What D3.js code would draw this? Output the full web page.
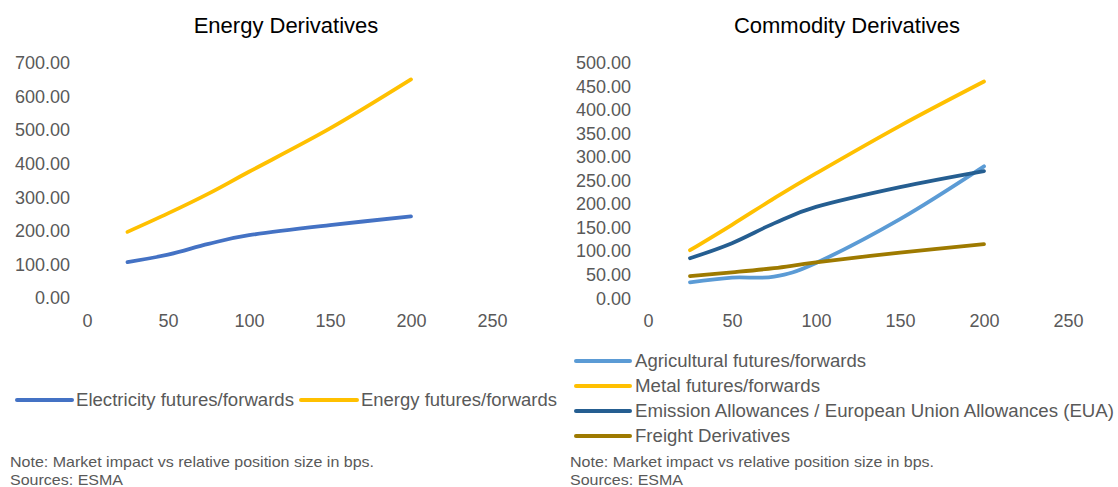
<!DOCTYPE html>
<html>
<head>
<meta charset="utf-8">
<script src="https://cdn.jsdelivr.net/npm/d3@7"></script>
<style>
  html, body { margin: 0; padding: 0; background: #fff; }
  svg { display: block; font-family: "Liberation Sans", Arial, sans-serif; }
</style>
</head>
<body>
<svg id="chart" width="1118" height="487"></svg>
<script>
// ---- Data ----
const positionSizes = [25, 50, 75, 100, 150, 200];

// Energy Derivatives
const electricityValues = [107, 129, 161, 187, 217, 243];
const energyValues      = [197, 252, 311, 376, 505, 651];

// Commodity Derivatives
const agriculturalValues = [34, 44, 46, 75, 168, 280];
const metalValues        = [102, 156, 212, 265, 366, 460];
const euaValues          = [85, 117, 159, 194, 236, 270];
const freightValues      = [47, 55, 64, 76, 97, 115];

const xTicks = [0, 50, 100, 150, 200, 250];
const energyYTicks = [0, 100, 200, 300, 400, 500, 600, 700];
const commodityYTicks = [0, 50, 100, 150, 200, 250, 300, 350, 400, 450, 500];

const energySeries = [
  { name: "Electricity futures/forwards", values: electricityValues, color: "#4472C4" },
  { name: "Energy futures/forwards", values: energyValues, color: "#FFC000" }
];
const commoditySeries = [
  { name: "Agricultural futures/forwards", values: agriculturalValues, color: "#5B9BD5" },
  { name: "Metal futures/forwards", values: metalValues, color: "#FFC000" },
  { name: "Emission Allowances / European Union Allowances (EUA)", values: euaValues, color: "#255E91" },
  { name: "Freight Derivatives", values: freightValues, color: "#9E7A00" }
];

const svg = d3.select("#chart");
const textColor = "#595959";

function drawPanel(cfg) {
  const g = svg.append("g");
  const x = d3.scaleLinear().domain([0, 250]).range([cfg.x0, cfg.x1]);
  const y = d3.scaleLinear().domain([0, cfg.yMax]).range([cfg.yBottom, cfg.yTop]);

  g.append("text")
    .attr("x", cfg.titleX).attr("y", 33)
    .attr("text-anchor", "middle")
    .attr("font-size", "22px")
    .attr("fill", "#000")
    .text(cfg.title);

  const yAxis = d3.axisLeft(y).tickValues(cfg.yTicks).tickFormat(d3.format(".2f")).tickSize(0).tickPadding(0);
  const ya = g.append("g").attr("transform", `translate(${cfg.yLabelX},0)`).call(yAxis);
  ya.select(".domain").remove();
  ya.selectAll("text").attr("font-size", "18px").attr("fill", textColor)
    .attr("font-family", "Liberation Sans, Arial, sans-serif");

  const xAxis = d3.axisBottom(x).tickValues(xTicks).tickFormat(d3.format("d")).tickSize(0).tickPadding(0);
  const xa = g.append("g").attr("transform", `translate(0,${cfg.xLabelY})`).call(xAxis);
  xa.select(".domain").remove();
  xa.selectAll("text").attr("font-size", "18px").attr("fill", textColor)
    .attr("font-family", "Liberation Sans, Arial, sans-serif");

  const line = d3.line()
    .x((d, i) => x(positionSizes[i]))
    .y(d => y(d))
    .curve(d3.curveCatmullRom.alpha(0));

  cfg.series.forEach(s => {
    g.append("path")
      .datum(s.values)
      .attr("d", line)
      .attr("fill", "none")
      .attr("stroke", s.color)
      .attr("stroke-width", 3.8)
      .attr("stroke-linecap", "round")
      .attr("stroke-linejoin", "round");
  });
  return g;
}

drawPanel({
  title: "Energy Derivatives", titleX: 286,
  x0: 87, x1: 492, yBottom: 298, yTop: 63, yMax: 700,
  yTicks: energyYTicks, yLabelX: 70, xLabelY: 314,
  series: energySeries
});

drawPanel({
  title: "Commodity Derivatives", titleX: 847,
  x0: 648, x1: 1068, yBottom: 298.3, yTop: 62.7, yMax: 500,
  yTicks: commodityYTicks, yLabelX: 631, xLabelY: 314,
  series: commoditySeries
});

// Left legend (horizontal)
const legL = svg.append("g");
const leftItems = [
  { s: energySeries[0], lx0: 17, lx1: 72, tx: 76, tw: 218 },
  { s: energySeries[1], lx0: 301, lx1: 357, tx: 361, tw: 196 }
];
leftItems.forEach(it => {
  legL.append("line").attr("x1", it.lx0).attr("x2", it.lx1).attr("y1", 400).attr("y2", 400)
    .attr("stroke", it.s.color).attr("stroke-width", 4).attr("stroke-linecap", "round");
  legL.append("text").attr("x", it.tx).attr("y", 400).attr("dy", "0.35em")
    .attr("font-size", "17.5px").attr("fill", textColor)
    .attr("textLength", it.tw).attr("lengthAdjust", "spacingAndGlyphs")
    .text(it.s.name);
});

// Right legend (vertical)
const legR = svg.append("g");
const rightWidths = [231, 185, 479, 155];
commoditySeries.forEach((s, i) => {
  const yy = 361 + i * 25;
  legR.append("line").attr("x1", 576).attr("x2", 630).attr("y1", yy).attr("y2", yy)
    .attr("stroke", s.color).attr("stroke-width", 4).attr("stroke-linecap", "round");
  legR.append("text").attr("x", 635).attr("y", yy).attr("dy", "0.35em")
    .attr("font-size", "17.5px").attr("fill", textColor)
    .attr("textLength", rightWidths[i]).attr("lengthAdjust", "spacingAndGlyphs")
    .text(s.name);
});

// Notes
const notes = [
  { x: 10, y1: 467, y2: 485 },
  { x: 570, y1: 467, y2: 485 }
];
notes.forEach(n => {
  svg.append("text").attr("x", n.x).attr("y", n.y1).attr("font-size", "14.5px").attr("fill", textColor)
    .attr("textLength", 364).attr("lengthAdjust", "spacingAndGlyphs")
    .text("Note: Market impact vs relative position size in bps.");
  svg.append("text").attr("x", n.x).attr("y", n.y2).attr("font-size", "14.5px").attr("fill", textColor)
    .attr("textLength", 113).attr("lengthAdjust", "spacingAndGlyphs")
    .text("Sources: ESMA");
});
</script>
</body>
</html>
